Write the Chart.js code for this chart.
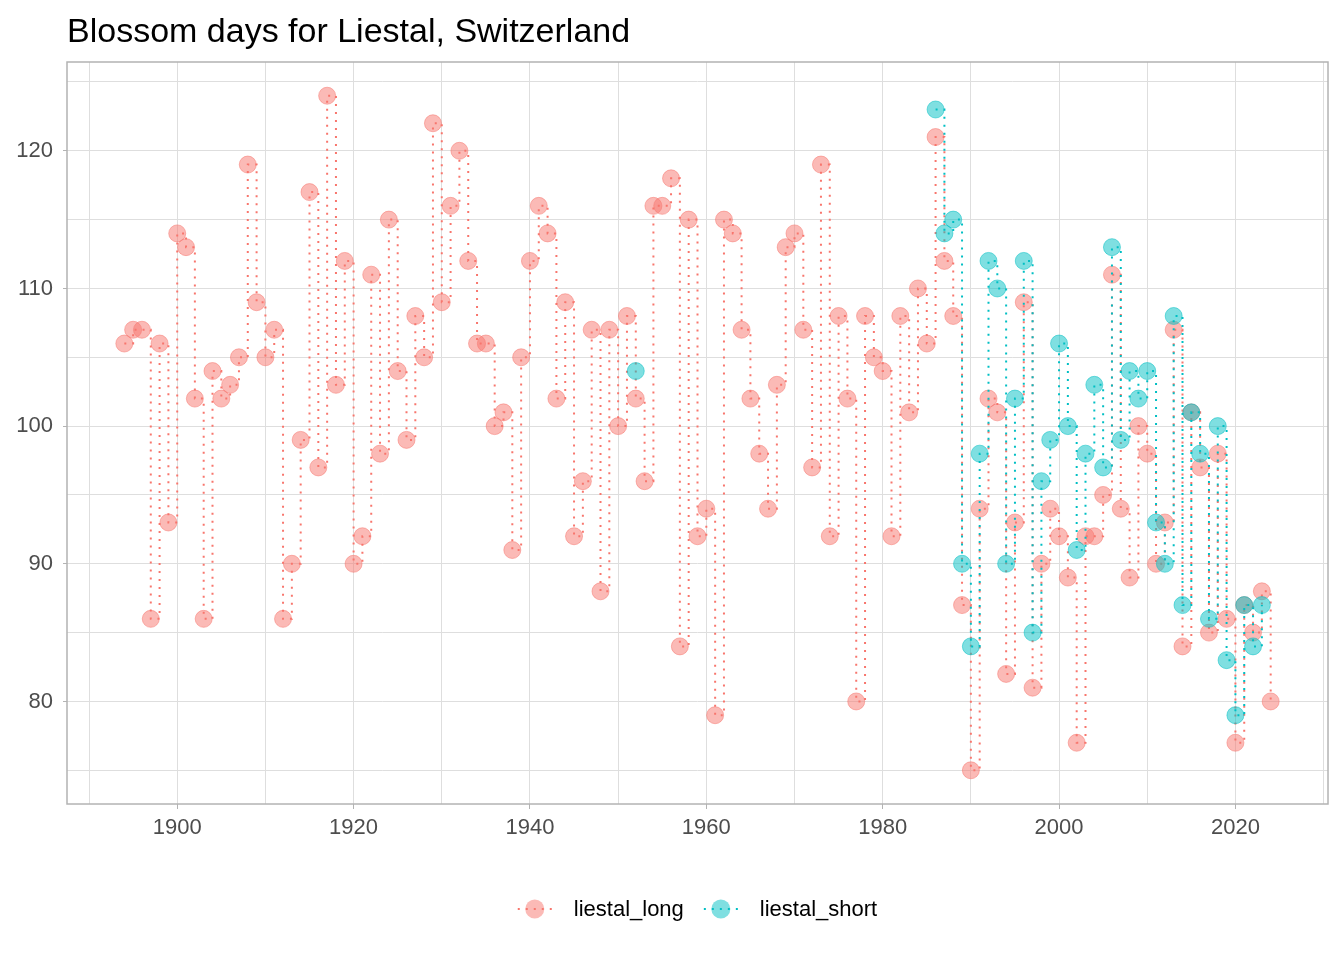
<!DOCTYPE html>
<html>
<head>
<meta charset="utf-8">
<title>Blossom days for Liestal, Switzerland</title>
<script src="https://cdn.jsdelivr.net/npm/chart.js@4.4.1/dist/chart.umd.min.js"></script>
<style>
  body { margin: 0; background: #fff; }
  canvas { display: block; }
</style>
</head>
<body>
<canvas id="blossomChart" width="1344" height="960"></canvas>
<script>
// Data
const longYears = [
  1894, 1895, 1896, 1897, 1898, 1899, 1900, 1901, 1902, 1903,
  1904, 1905, 1906, 1907, 1908, 1909, 1910, 1911, 1912, 1913,
  1914, 1915, 1916, 1917, 1918, 1919, 1920, 1921, 1922, 1923,
  1924, 1925, 1926, 1927, 1928, 1929, 1930, 1931, 1932, 1933,
  1934, 1935, 1936, 1937, 1938, 1939, 1940, 1941, 1942, 1943,
  1944, 1945, 1946, 1947, 1948, 1949, 1950, 1951, 1952, 1953,
  1954, 1955, 1956, 1957, 1958, 1959, 1960, 1961, 1962, 1963,
  1964, 1965, 1966, 1967, 1968, 1969, 1970, 1971, 1972, 1973,
  1974, 1975, 1976, 1977, 1978, 1979, 1980, 1981, 1982, 1983,
  1984, 1985, 1986, 1987, 1988, 1989, 1990, 1991, 1992, 1993,
  1994, 1995, 1996, 1997, 1998, 1999, 2000, 2001, 2002, 2003,
  2004, 2005, 2006, 2007, 2008, 2009, 2010, 2011, 2012, 2013,
  2014, 2015, 2016, 2017, 2018, 2019, 2020, 2021, 2022, 2023,
  2024
];
const longDays = [
  106, 107, 107, 86, 106, 93, 114, 113, 102, 86,
  104, 102, 103, 105, 119, 109, 105, 107, 86, 90,
  99, 117, 97, 124, 103, 112, 90, 92, 111, 98,
  115, 104, 99, 108, 105, 122, 109, 116, 120, 112,
  106, 106, 100, 101, 91, 105, 112, 116, 114, 102,
  109, 92, 96, 107, 88, 107, 100, 108, 102, 96,
  116, 116, 118, 84, 115, 92, 94, 79, 115, 114,
  107, 102, 98, 94, 103, 113, 114, 107, 97, 119,
  92, 108, 102, 80, 108, 105, 104, 92, 108, 101,
  110, 106, 121, 112, 108, 87, 75, 94, 102, 101,
  82, 93, 109, 81, 90, 94, 92, 89, 77, 92,
  92, 95, 111, 94, 89, 100, 98, 90, 93, 107,
  84, 101, 97, 85, 98, 86, 77, 87, 85, 88,
  80
];

const shortYears = [
  1952,
  1986, 1987, 1988, 1989, 1990, 1991, 1992, 1993, 1994, 1995,
  1996, 1997, 1998, 1999, 2000, 2001, 2002, 2003, 2004, 2005,
  2006, 2007, 2008, 2009, 2010, 2011, 2012, 2013, 2014, 2015,
  2016, 2017, 2018, 2019, 2020, 2021, 2022, 2023
];
const shortDays = [
  104,
  123, 114, 115, 90, 84, 98, 112, 110, 90, 102,
  112, 85, 96, 99, 106, 100, 91, 98, 103, 97,
  113, 99, 104, 102, 104, 93, 90, 108, 87, 101,
  98, 86, 100, 83, 79, 87, 84, 87
];

const seriesNames = ["liestal_long", "liestal_short"];
const seriesColors = ["#F8766D", "#00BFC4"];
const seriesFills = ["rgba(248,118,109,0.5)", "rgba(0,191,196,0.5)"];

const xTickLabels = [1900, 1920, 1940, 1960, 1980, 2000, 2020];
const yTickLabels = [80, 90, 100, 110, 120];

const FONT = '"Liberation Sans", Arial, Helvetica, sans-serif';

// turn year/value lists into points, leaving a gap where years are missing
function toPoints(years, values) {
  const pts = [];
  years.forEach((yr, i) => {
    if (i > 0 && yr - years[i - 1] > 1) pts.push({ x: years[i - 1] + 1, y: null });
    pts.push({ x: yr, y: values[i] });
  });
  return pts;
}

function makeDataset(idx, years, values, order) {
  return {
    label: seriesNames[idx],
    data: toPoints(years, values),
    order: order,
    stepped: "before",
    spanGaps: false,
    borderColor: seriesColors[idx],
    borderWidth: 2,
    borderDash: [2, 6],
    pointRadius: 8.5,
    pointHoverRadius: 8.5,
    pointBackgroundColor: seriesFills[idx],
    pointBorderColor: seriesFills[idx],
    pointBorderWidth: 1,
    fill: false
  };
}

// title, panel border and legend drawn around the plot
const decorations = {
  id: "decorations",
  afterDraw(chart) {
    const ctx = chart.ctx;
    const area = chart.chartArea;
    ctx.save();

    // panel border
    ctx.strokeStyle = "#B3B3B3";
    ctx.lineWidth = 1.5;
    ctx.strokeRect(area.left, area.top, area.right - area.left, area.bottom - area.top);

    // title
    ctx.fillStyle = "#000";
    ctx.font = "34px " + FONT;
    ctx.textAlign = "left";
    ctx.textBaseline = "alphabetic";
    ctx.fillText("Blossom days for Liestal, Switzerland", area.left, 42);

    // legend
    ctx.font = "22px " + FONT;
    const keyW = 34, keyGap = 22, itemGap = 20;
    const widths = seriesNames.map(n => ctx.measureText(n).width);
    const total = widths.reduce((s, w) => s + keyW + keyGap + w, 0) + itemGap;
    let x = (area.left + area.right) / 2 - total / 2;
    const y = 909;
    seriesNames.forEach((name, i) => {
      ctx.strokeStyle = seriesColors[i];
      ctx.lineWidth = 2;
      ctx.setLineDash([2, 6]);
      ctx.beginPath();
      ctx.moveTo(x, y);
      ctx.lineTo(x + keyW, y);
      ctx.stroke();
      ctx.setLineDash([]);
      ctx.fillStyle = seriesFills[i];
      ctx.beginPath();
      ctx.arc(x + keyW / 2, y, 9.5, 0, Math.PI * 2);
      ctx.fill();
      ctx.fillStyle = "#000";
      ctx.textBaseline = "alphabetic";
      ctx.fillText(name, x + keyW + keyGap, y + 7);
      x += keyW + keyGap + widths[i] + itemGap;
    });
    ctx.restore();
  }
};

const ctx = document.getElementById("blossomChart").getContext("2d");
const blossomChart = new Chart(ctx, {
  type: "line",
  data: {
    datasets: [
      makeDataset(0, longYears, longDays, 1),
      makeDataset(1, shortYears, shortDays, 0)
    ]
  },
  options: {
    responsive: false,
    animation: false,
    events: [],
    layout: { padding: { left: 0, right: 16, top: 62, bottom: 116 } },
    plugins: {
      legend: { display: false },
      title: { display: false },
      tooltip: { enabled: false }
    },
    scales: {
      x: {
        type: "linear",
        min: 1887.5,
        max: 2030.5,
        afterFit: (scale) => { scale.height = 40; },
        border: { display: false },
        grid: {
          color: "#DEDEDE",
          lineWidth: 1,
          tickLength: 5,
          tickColor: (c) => (c.tick && xTickLabels.includes(c.tick.value)) ? "#B3B3B3" : "rgba(0,0,0,0)"
        },
        ticks: {
          stepSize: 10,
          includeBounds: false,
          autoSkip: false,
          maxRotation: 0,
          padding: 6,
          color: "#4D4D4D",
          font: { family: FONT, size: 22 },
          callback: (v) => xTickLabels.includes(v) ? String(v) : ""
        }
      },
      y: {
        type: "linear",
        min: 72.55,
        max: 126.45,
        afterFit: (scale) => { scale.width = 67; },
        border: { display: false },
        grid: {
          color: "#DEDEDE",
          lineWidth: 1,
          tickLength: 4,
          tickColor: (c) => (c.tick && yTickLabels.includes(c.tick.value)) ? "#B3B3B3" : "rgba(0,0,0,0)"
        },
        ticks: {
          stepSize: 5,
          includeBounds: false,
          autoSkip: false,
          padding: 10,
          color: "#4D4D4D",
          font: { family: FONT, size: 22 },
          callback: (v) => yTickLabels.includes(v) ? String(v) : ""
        }
      }
    }
  },
  plugins: [decorations]
});
</script>
</body>
</html>
